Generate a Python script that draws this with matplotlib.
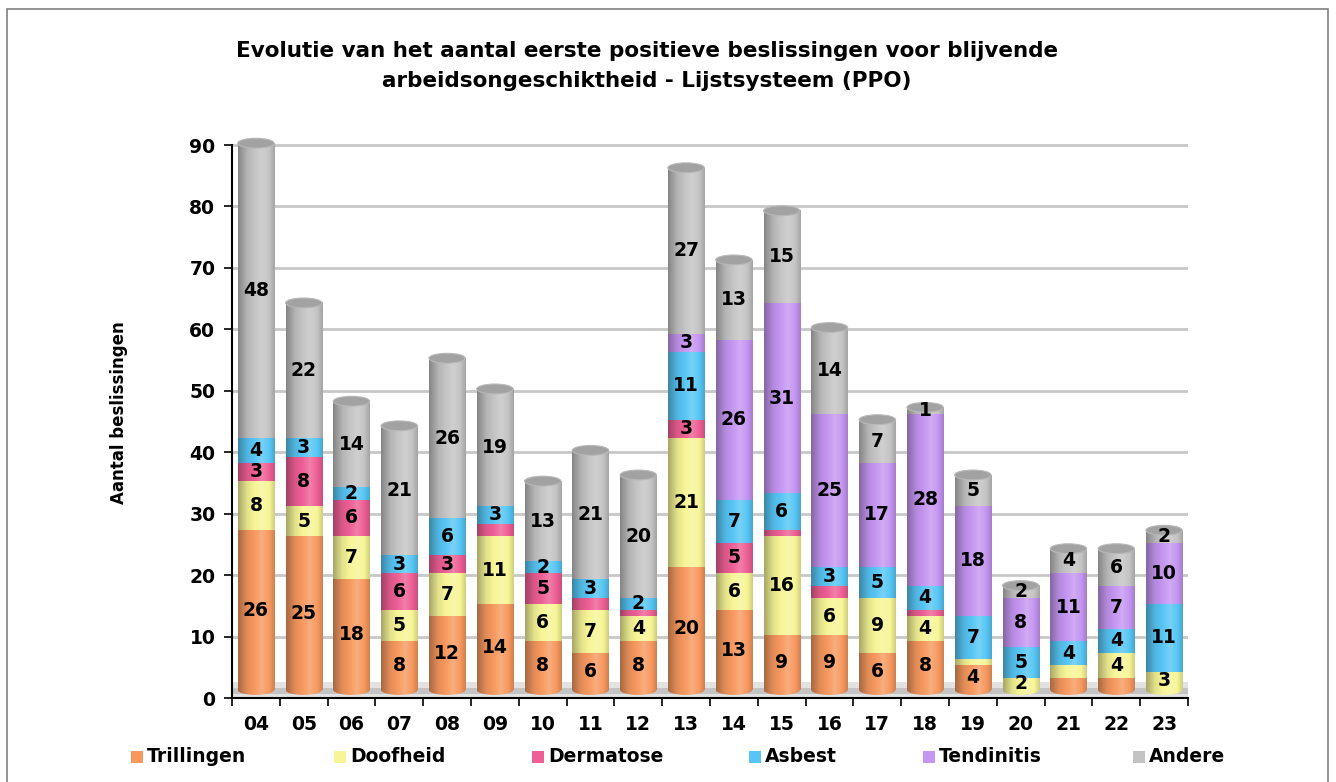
import numpy as np
import matplotlib
matplotlib.use('Agg')
import matplotlib.pyplot as plt
import matplotlib.colors as mcolors
from matplotlib.patches import Rectangle, Ellipse

years = ['04', '05', '06', '07', '08', '09', '10', '11', '12', '13',
         '14', '15', '16', '17', '18', '19', '20', '21', '22', '23']
trillingen = [26, 25, 18, 8, 12, 14, 8, 6, 8, 20, 13, 9, 9, 6, 8, 4, 0, 2, 2, 0]
doofheid = [8, 5, 7, 5, 7, 11, 6, 7, 4, 21, 6, 16, 6, 9, 4, 1, 2, 2, 4, 3]
dermatose = [3, 8, 6, 6, 3, 2, 5, 2, 1, 3, 5, 1, 2, 0, 1, 0, 0, 0, 0, 0]
asbest = [4, 3, 2, 3, 6, 3, 2, 3, 2, 11, 7, 6, 3, 5, 4, 7, 5, 4, 4, 11]
tendinitis = [0, 0, 0, 0, 0, 0, 0, 0, 0, 3, 26, 31, 25, 17, 28, 18, 8, 11, 7, 10]
andere = [48, 22, 14, 21, 26, 19, 13, 21, 20, 27, 13, 15, 14, 7, 1, 5, 2, 4, 6, 2]

series_names = ['Trillingen', 'Doofheid', 'Dermatose', 'Asbest', 'Tendinitis', 'Andere']
series = [trillingen, doofheid, dermatose, asbest, tendinitis, andere]
colors = ['#F7995F', '#F7F596', '#EE5F95', '#57C6F5', '#C596F2', '#C4C4C4']

# labels that were left off in the original chart (series index, year)
hidden_labels = {(2, '09'), (2, '11'), (2, '12'), (2, '15'), (2, '16'), (2, '18'),
                 (1, '19'), (0, '21'), (1, '21'), (0, '22')}

plt.rcParams['font.family'] = ['DejaVu Sans']
W, H = 1336, 782
fig = plt.figure(figsize=(W / 100, H / 100), dpi=100)

# outer frame
fig.add_artist(Rectangle((7 / W, -0.02), (1328 - 7) / W, 1.0 - 9 / H + 0.02,
                         transform=fig.transFigure, fill=False,
                         edgecolor='#808080', lw=1.2))

ymax = 93
ax = fig.add_axes([232 / W, (H - 698) / H, 956 / W, (698 - 126.6) / H])


def shade(color, n=80):
    rgb = np.array(mcolors.to_rgb(color))
    t = np.linspace(0, 1, n)
    k = np.interp(t, [0, 0.25, 0.65, 0.85, 1], [0.68, 0.92, 1.08, 1.0, 0.84])
    out = np.empty((n, 3))
    for i, kk in enumerate(k):
        if kk <= 1:
            out[i] = rgb * kk
        else:
            out[i] = rgb + (1 - rgb) * (kk - 1) * 2.5
    return np.clip(out, 0, 1)[None, :, :]


def fill_gradient(patch, color, z):
    patch.set_facecolor('none')
    patch.set_edgecolor('none')
    bb = patch.get_extents().transformed(ax.transData.inverted())
    ax.imshow(shade(color), extent=(bb.x0, bb.x1, bb.y0, bb.y1), aspect='auto',
              clip_path=patch, zorder=z, interpolation='bilinear')


x = np.arange(len(years))
bw = 0.76
eh = 1.6
floor = 1.3   # cylinders stand on the 3D floor
bottom = np.full(len(years), floor)

# floor of the 3D chart
ax.axhspan(0, 2.6, color='#e2e2e2', zorder=1, lw=0)
ax.axhspan(0.6, 1.6, color='#c4c4c4', zorder=1, lw=0)

for i, vals in enumerate(series):
    vals = np.array(vals, dtype=float)
    bars = ax.bar(x, vals, bw, bottom=bottom, zorder=3)
    for j, p in enumerate(bars.patches):
        if vals[j] <= 0:
            p.remove()
            continue
        fill_gradient(p, colors[i], 3)
        if (i, years[j]) not in hidden_labels:
            ax.text(x[j], bottom[j] + vals[j] / 2, f'{int(vals[j])}', ha='center',
                    va='center', fontsize=13.5, fontweight='bold', zorder=6)
    bottom += vals

# rounded bottoms and tops of the cylinders
first_color = []
for j in range(len(years)):
    for i, vals in enumerate(series):
        if vals[j] > 0:
            first_color.append(colors[i])
            break
for j in range(len(years)):
    e = Ellipse((x[j], floor), bw, eh, zorder=2.5)
    ax.add_patch(e)
    fill_gradient(e, first_color[j], 2.5)
    top = Ellipse((x[j], bottom[j]), bw, eh, facecolor='#a2a2a2',
                  edgecolor='#b8b8b8', lw=0.8, zorder=4)
    ax.add_patch(top)

ax.set_xlim(-0.5, len(years) - 0.5)
ax.set_ylim(0, ymax)
ax.set_yticks(range(0, 91, 10))
ax.set_yticklabels([str(v) for v in range(0, 91, 10)], fontsize=13.5, fontweight='bold')
ax.yaxis.grid(True, color='#c8c8c8', lw=2)
ax.set_axisbelow(True)
ax.set_xticks(x)
ax.set_xticklabels(years, fontsize=13.5, fontweight='bold')
ax.set_xticks(np.arange(-0.5, len(years)), minor=True)
ax.tick_params(axis='x', which='major', length=0, pad=12)
ax.tick_params(axis='x', which='minor', length=6, width=1.2)
ax.tick_params(axis='y', length=6, width=1.2, pad=6)
for s in ['top', 'right']:
    ax.spines[s].set_visible(False)
for s in ['left', 'bottom']:
    ax.spines[s].set_linewidth(1.5)
ax.spines['left'].set_bounds(0, 90)

ax.set_ylabel('Aantal beslissingen', fontsize=12, fontweight='bold', labelpad=44)

fig.text(647 / W, 1 - 66 / H,
         'Evolutie van het aantal eerste positieve beslissingen voor blijvende\n'
         'arbeidsongeschiktheid - Lijstsysteem (PPO)',
         ha='center', va='center', fontsize=15.5, fontweight='bold', linespacing=1.65)

# legend along the bottom
legend_x = [131, 334, 532, 749, 923, 1133]
for lx, name, c in zip(legend_x, series_names, colors):
    fig.add_artist(Rectangle((lx / W, 1 - 763 / H), 12 / W, 12 / H,
                             transform=fig.transFigure, facecolor=c, edgecolor='none'))
    fig.text((lx + 16) / W, 1 - 757 / H, name, ha='left', va='center',
             fontsize=13.5, fontweight='bold')

fig.savefig('out.png', dpi=100)
